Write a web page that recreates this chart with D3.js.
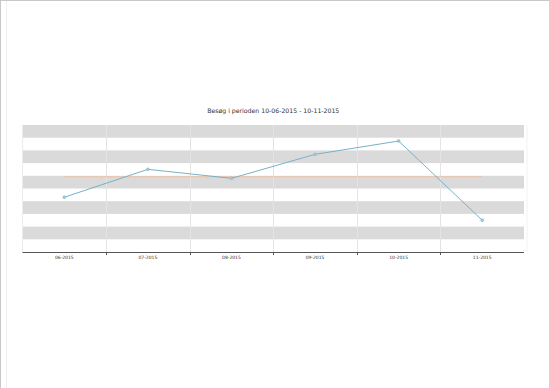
<!DOCTYPE html>
<html><head><meta charset="utf-8">
<script src="https://cdn.jsdelivr.net/npm/d3@7/dist/d3.min.js"></script>
<style>html,body{margin:0;padding:0;background:#fff;overflow:hidden} text{text-rendering:geometricPrecision}</style>
</head><body>
<script>
const title = "Besøg i perioden 10-06-2015 - 10-11-2015";
const months = ["06-2015","07-2015","08-2015","09-2015","10-2015","11-2015"];
const visits = [431, 651, 580, 769, 874, 250];
const yTicks = [0,100,200,300,400,500,600,700,800,900,1000];

const W = 549, H = 388;
const svg = d3.select("body").append("svg").attr("width", W).attr("height", H);
// page border
svg.append("line").attr("x1",0.5).attr("x2",0.5).attr("y1",0).attr("y2",H).attr("stroke","#c8c8c8");
svg.append("line").attr("x1",0).attr("x2",W).attr("y1",0.5).attr("y2",0.5).attr("stroke","#c8c8c8");
svg.append("line").attr("x1",6.5).attr("x2",6.5).attr("y1",1).attr("y2",H).attr("stroke","#f0f0f0");

const L = 22.5, R = 524, T = 125, B = 252;
const x = d3.scaleBand().domain(months).range([L, R]);
const y = d3.scaleLinear().domain([0, 1000]).range([B, T]);
const cx = d => x(d) + x.bandwidth()/2;

// bands
const g = svg.append("g");
for (let i = 0; i < yTicks.length - 1; i++) {
  if (i % 2 === 1) {
    g.append("rect").attr("x", L).attr("width", R - L)
      .attr("y", y(yTicks[i+1])).attr("height", y(yTicks[i]) - y(yTicks[i+1]))
      .attr("fill", "#dadada");
  }
}
// vertical grid
g.selectAll("line.vg").data(months.slice(1)).enter().append("line")
  .attr("x1", d => Math.round(x(d)) + 0.5).attr("x2", d => Math.round(x(d)) + 0.5)
  .attr("y1", T).attr("y2", B).attr("stroke", "#e4e4e4").attr("stroke-width", 1);
g.append("line").attr("x1", L).attr("x2", L).attr("y1", T).attr("y2", B).attr("stroke", "#ececec");
g.append("line").attr("x1", R+3).attr("x2", R+3).attr("y1", T).attr("y2", B).attr("stroke", "#f2f2f2");

// x axis
const ax = svg.append("g").attr("transform", `translate(0,${B})`);
ax.append("line").attr("x1", L).attr("x2", R).attr("y1", 0.5).attr("y2", 0.5).attr("stroke", "#555");
ax.selectAll("line.t").data(months.slice(1)).enter().append("line")
  .attr("x1", d => Math.round(x(d)) + 0.5).attr("x2", d => Math.round(x(d)) + 0.5)
  .attr("y1", 0).attr("y2", 3).attr("stroke", "#555");
ax.selectAll("text").data(months).enter().append("text")
  .attr("x", cx).attr("y", 7).attr("text-anchor", "middle")
  .attr("font-family", "DejaVu Sans, Verdana, sans-serif").attr("font-size", 4.5)
  .attr("fill", "#333").text(d => d);

// average
const avg = d3.mean(visits);
svg.append("line").attr("x1", cx(months[0])).attr("x2", cx(months[months.length-1]))
  .attr("y1", y(avg)).attr("y2", y(avg)).attr("stroke", "#ecc2a8").attr("stroke-width", 1);

// series
const line = d3.line().x((d, i) => cx(months[i])).y(d => y(d));
svg.append("path").datum(visits).attr("d", line).attr("fill", "none")
  .attr("stroke", "#79b1c6").attr("stroke-width", 1);
svg.selectAll("circle").data(visits).enter().append("circle")
  .attr("cx", (d, i) => cx(months[i])).attr("cy", d => y(d)).attr("r", 1.4)
  .attr("fill", "#a9cfdc").attr("stroke", "#79b1c6").attr("stroke-width", 0.6);

// title
svg.append("text").attr("x", (L + R)/2).attr("y", 113).attr("text-anchor", "middle")
  .attr("font-family", "DejaVu Sans, Verdana, sans-serif").attr("font-size", 6.2)
  .attr("fill", "#333").text(title);
</script>
</body></html>
